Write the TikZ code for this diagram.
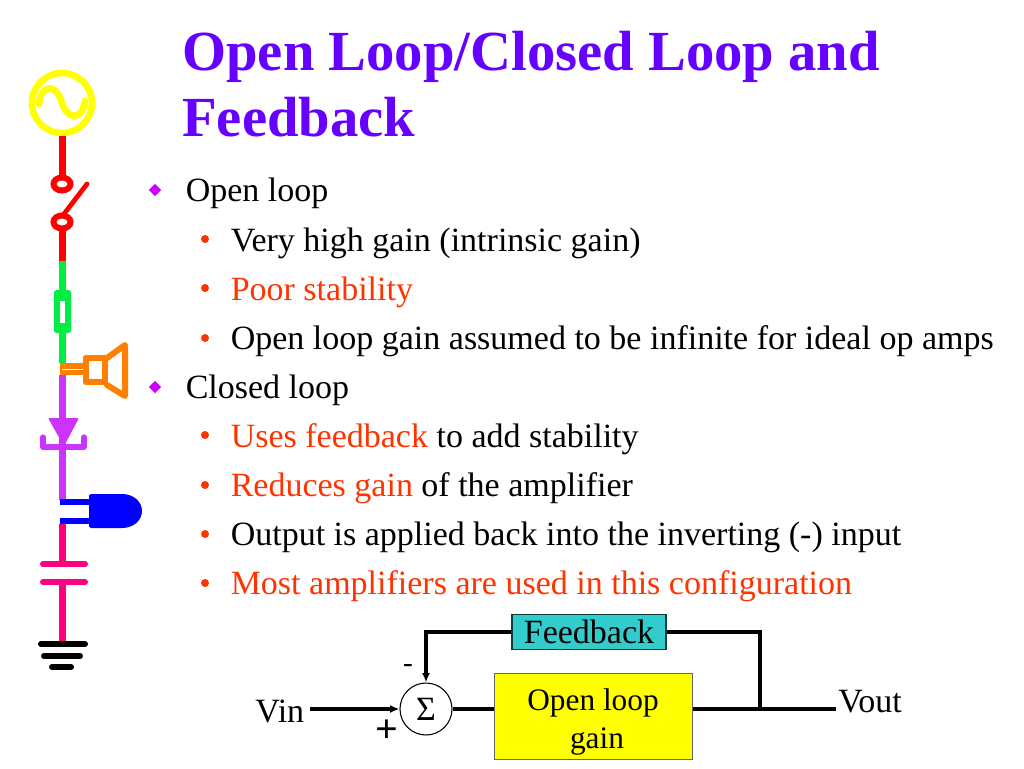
\documentclass[tikz,border=0pt]{standalone}
\usepackage{fontspec}
\setmainfont{Liberation Serif}
\usetikzlibrary{shapes.geometric,arrows.meta,calc}
\definecolor{titlecol}{HTML}{6600FF}
\definecolor{hot}{HTML}{FF3300}
\definecolor{dia}{HTML}{CC00FF}
\definecolor{ggreen}{HTML}{00EE44}
\definecolor{sorange}{HTML}{FF8000}
\definecolor{dpurple}{HTML}{CC33FF}
\definecolor{cpink}{HTML}{FF0080}
\definecolor{fbteal}{HTML}{33CCCC}
\definecolor{pureyellow}{HTML}{FFFF00}
\definecolor{purered}{HTML}{FF0000}
\definecolor{pureblue}{HTML}{0000FF}
\newcommand{\bodyfs}{\fontsize{25.5}{25.5}\selectfont}
\tikzset{
  titletext/.style={anchor=base west,inner sep=0,text=titlecol,font=\fontsize{42.5}{42.5}\selectfont\bfseries},
  lvlone/.style={anchor=base west,inner sep=0,font=\bodyfs},
  lvltwo/.style={anchor=base west,inner sep=0,font=\bodyfs},
  hotbit/.style={text=hot},
  bulletdia/.style={diamond,fill=dia,inner sep=0,minimum size=9.5},
  bulletdot/.style={circle,fill=hot,inner sep=0,minimum size=6},
  plate/.style={line width=4.5pt,line cap=round},
  wire/.style={line width=2.6pt,draw=black},
  blockbox/.style={draw=black!70!fbteal,line width=.8pt,inner sep=0,align=center},
  lab/.style={inner sep=0,font=\fontsize{23.5}{23.5}\selectfont},
}
\begin{document}
\begin{tikzpicture}[x=0.75pt,y=-0.75pt]
\useasboundingbox (0,0) rectangle (1024,768);
% title
\node[titletext] (t1) at (182,70) {Open Loop/Closed Loop and};
\node[titletext] (t2) at (182,136) {Feedback};
% bullets
\node[bulletdia] (b1) at (155,190) {};
\node[bulletdia] (b2) at (155,387) {};
\foreach \y/\n in {239/a,288/b,338/c,435/d,485/e,534/f,583/g}
  \node[bulletdot] (d\n) at (205,\y) {};
\node[lvlone] (l1) at (185.5,201) {Open loop};
\node[lvltwo] (l2) at (230.5,251) {Very high gain (intrinsic gain)};
\node[lvltwo,hotbit] (l3) at (230.5,300) {Poor stability};
\node[lvltwo] (l4) at (230.5,349) {Open loop gain assumed to be infinite for ideal op amps};
\node[lvlone] (l5) at (185.5,398) {Closed loop};
\node[lvltwo] (l6) at (230.5,447) {{\color{hot}Uses feedback} to add stability};
\node[lvltwo] (l7) at (230.5,496) {{\color{hot}Reduces gain} of the amplifier};
\node[lvltwo] (l8) at (230.5,545) {Output is applied back into the inverting (-) input};
\node[lvltwo,hotbit] (l9) at (230.5,594) {Most amplifiers are used in this configuration};
% left schematic
\draw[pureyellow,line width=5pt] (62,103) circle (30);
\draw[pureyellow,line width=5pt,line cap=round] (39,104) .. controls (41,84) and (56,84) .. (61,100) .. controls (66,120) and (82,122) .. (85,101);
\fill[purered] (59,136) rectangle (66,176);
\draw[purered,line width=4.5pt] (62,184) ellipse (8.5 and 6.5);
\draw[purered,line width=4.5pt] (62,222) ellipse (8.5 and 6.5);
\draw[purered,line width=3.6pt,line cap=round] (64,214) -- (87,184);
\fill[purered] (59,228) rectangle (66,261);
\fill[ggreen] (59,261) rectangle (66,290);
\fill[ggreen,rounded corners=2pt] (54,290) rectangle (71,333);
\fill[white] (60,301) rectangle (65,323);
\fill[ggreen] (59,333) rectangle (66,363);
\fill[sorange] (60,363) rectangle (85,375);
\draw[white,line width=.6pt] (62,369) -- (84,369);
\draw[sorange,line width=4.5pt,line join=round] (85.5,357.5) rectangle (105,382);
\draw[sorange,line width=4.5pt,line join=round,line cap=round] (107,358) -- (125,345) -- (125,396) -- (107,385);
\fill[dpurple] (59,375) rectangle (66,500);
\fill[dpurple,rounded corners=1pt] (48,418) -- (79,418) -- (64,446) -- cycle;
\draw[line width=3.8pt,dpurple,line join=round,line cap=round] (43,437) -- (43,447) -- (84,447) -- (84,437);
\fill[pureblue] (60,499) rectangle (90,505);
\fill[pureblue] (60,518) rectangle (90,524);
\fill[pureblue] (91,494) -- (122,494) .. controls (134,494) and (142,502) .. (142,511) .. controls (142,520) and (134,528) .. (122,528) -- (91,528) .. controls (89,528) and (89,526) .. (89,524) -- (89,498) .. controls (89,496) and (89,494) .. (91,494) -- cycle;
\fill[cpink] (59,524) rectangle (66,564);
\draw[plate,cpink] (43,564) -- (85,564);
\draw[plate,cpink] (43,582) -- (85,582);
\fill[cpink] (59,582) rectangle (66,643);
\draw[plate,black] (41,644) -- (85,644);
\draw[plate,black] (44,656) -- (80,656);
\draw[plate,black] (52,667) -- (71,667);
% block diagram
\node[blockbox,fill=fbteal,minimum width=115.5,minimum height=26.5,font=\bodyfs] (fb) at (589,632) {Feedback};
\node[blockbox,fill=pureyellow,minimum width=148,minimum height=65,draw=black!60] (gain) at (593.5,716.5) {};
\node[lab,anchor=base] (gt1) at (593,710) {Open loop};
\node[lab,anchor=base] (gt2) at (597,748) {gain};
\node[ellipse,draw=black,line width=.8pt,fill=white,minimum width=39,minimum height=39,inner sep=0,font=\bodyfs] (sum) at (426,709) {Σ};
\node[lab,anchor=base west,font=\bodyfs] (vin) at (255,722) {Vin};
\node[lab,anchor=base west,font=\bodyfs] (vout) at (838,712) {Vout};
\node[lab,font=\fontsize{22}{22}\selectfont] (minus) at (408,668) {-};
\node[lab,font=\fontsize{30}{30}\selectfont\bfseries] (plus) at (387,731) {+};
\coordinate (tl) at (426,632);
\coordinate (tr) at (760,632);
\coordinate (jn) at (760,709);
\coordinate (vinend) at (310,709);
\coordinate (voutend) at (836,709);
\draw[wire,-{Latex[length=7pt,width=6pt]}] (fb.west) -- (tl) -- (sum.north);
\draw[wire] (fb.east) -- (tr) -- (jn);
\draw[wire,-{Latex[length=7pt,width=6pt]}] (vinend) -- (sum.west);
\draw[wire] (sum.east) -- (sum.east -| gain.west);
\draw[wire] (gain.east |- jn) -- (voutend);
\end{tikzpicture}
\end{document}
